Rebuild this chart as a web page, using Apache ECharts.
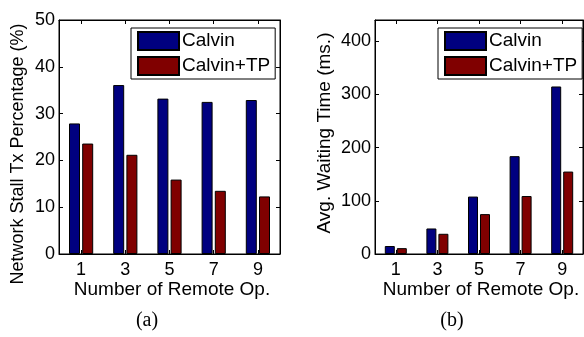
<!DOCTYPE html>
<html>
<head>
<meta charset="utf-8">
<script src="https://cdn.jsdelivr.net/npm/echarts@6/dist/echarts.min.js"></script>
<style>
html,body{margin:0;padding:0;background:#fff;}
#main{width:584px;height:337px;}
</style>
</head>
<body>
<div id="main"></div>
<script>
// data
var remoteOps = ['1', '3', '5', '7', '9'];
var seriesNames = ['Calvin', 'Calvin+TP'];
var stallCalvin = [27.9, 36.1, 33.2, 32.5, 32.9];
var stallCalvinTP = [23.6, 21.2, 15.9, 13.5, 12.3];
var waitCalvin = [15, 48, 108, 184, 315];
var waitCalvinTP = [11, 38, 75, 109, 155];

var chart = echarts.init(document.getElementById('main'), null, {renderer: 'canvas'});
var FONT = 'Liberation Sans, Arial, sans-serif';
var blue = '#000080', red = '#800000';

function xAxisPair(gridIndex)
{
	var list = [];
	var pos = ['bottom', 'top'];
	for (var i = 0; i < 2; i++) {
		list.push({
			type: 'category',
			gridIndex: gridIndex,
			position: pos[i],
			data: remoteOps,
			boundaryGap: true,
			axisLine: {show: true, onZero: false, lineStyle: {color: '#000', width: 1}},
			axisTick: {show: true, inside: true, length: 4, alignWithLabel: true, lineStyle: {color: '#000'}},
			axisLabel: {show: i == 0, color: '#000', fontFamily: FONT, fontSize: 18, margin: 7},
			splitLine: {show: false}
		});
	}
	return list;
}

function yAxisPair(gridIndex, max, interval)
{
	var list = [];
	var pos = ['left', 'right'];
	for (var i = 0; i < 2; i++) {
		list.push({
			type: 'value',
			gridIndex: gridIndex,
			position: pos[i],
			min: 0,
			max: max,
			interval: interval,
			axisLine: {show: true, onZero: false, lineStyle: {color: '#000', width: 1}},
			axisTick: {show: true, inside: true, length: 4, lineStyle: {color: '#000'}},
			axisLabel: {show: i == 0, color: '#000', fontFamily: FONT, fontSize: 18, margin: 4, showMaxLabel: max % interval == 0},
			splitLine: {show: false}
		});
	}
	return list;
}

function legendAt(left, suffix)
{
	return {
		left: left,
		top: 28,
		orient: 'vertical',
		data: [seriesNames[0] + suffix, seriesNames[1] + suffix],
		formatter: function (name) { return name.trim(); },
		itemWidth: 41,
		itemHeight: 18,
		itemGap: 5,
		padding: [3, 5, 3, 6],
		borderColor: '#000',
		borderWidth: 1,
		backgroundColor: '#fff',
		icon: 'rect',
		textStyle: {color: '#000', fontFamily: FONT, fontSize: 19, padding: [0, 0, 0, -2]},
		selectedMode: false
	};
}

function barSeries(name, data, color, axisIdx, width)
{
	return {
		name: name,
		type: 'bar',
		xAxisIndex: axisIdx,
		yAxisIndex: axisIdx,
		data: data,
		barWidth: width,
		barGap: '20%',
		itemStyle: {color: color, borderColor: '#000', borderWidth: 1},
		emphasis: {disabled: true},
		animation: false
	};
}

var xa = xAxisPair(0), xb = xAxisPair(1);
var ya = yAxisPair(0, 50, 10), yb = yAxisPair(1, 440, 100);

var option = {
	backgroundColor: '#fff',
	animation: false,
	grid: [
		{left: 59, top: 20, width: 221, height: 234, show: true, borderColor: '#000', borderWidth: 1},
		{left: 375, top: 20, width: 208, height: 234, show: true, borderColor: '#000', borderWidth: 1}
	],
	xAxis: [xa[0], xa[1], xb[0], xb[1]],
	yAxis: [ya[0], ya[1], yb[0], yb[1]],
	legend: [legendAt(131, ''), legendAt(438, ' ')],
	series: [
		barSeries(seriesNames[0], stallCalvin, blue, 0, 11),
		barSeries(seriesNames[1], stallCalvinTP, red, 0, 11),
		barSeries(seriesNames[0] + ' ', waitCalvin, blue, 2, 10),
		barSeries(seriesNames[1] + ' ', waitCalvinTP, red, 2, 10)
	],
	graphic: [
		{type: 'text', x: 18, y: 154, rotation: Math.PI / 2,
			style: {text: 'Network Stall Tx Percentage (%)', fill: '#000', font: '18px ' + FONT, align: 'center', verticalAlign: 'middle'}},
		{type: 'text', x: 325, y: 133, rotation: Math.PI / 2,
			style: {text: 'Avg. Waiting Time (ms.)', fill: '#000', font: '19px ' + FONT, align: 'center', verticalAlign: 'middle'}},
		{type: 'text', x: 172, y: 290,
			style: {text: 'Number of Remote Op.', fill: '#000', font: '19px ' + FONT, align: 'center', verticalAlign: 'middle'}},
		{type: 'text', x: 481, y: 290,
			style: {text: 'Number of Remote Op.', fill: '#000', font: '19px ' + FONT, align: 'center', verticalAlign: 'middle'}},
		{type: 'text', x: 147, y: 321,
			style: {text: '(a)', fill: '#000', font: '20px Liberation Serif, Times New Roman, serif', align: 'center', verticalAlign: 'middle'}},
		{type: 'text', x: 452, y: 321,
			style: {text: '(b)', fill: '#000', font: '20px Liberation Serif, Times New Roman, serif', align: 'center', verticalAlign: 'middle'}}
	]
};
chart.setOption(option, true);
window.onresize = chart.resize;
</script>
</body>
</html>
